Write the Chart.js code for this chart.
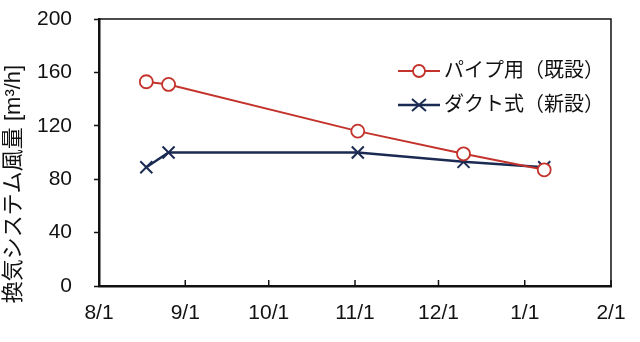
<!DOCTYPE html>
<html>
<head>
<meta charset="utf-8">
<script src="https://cdn.jsdelivr.net/npm/chart.js@4/dist/chart.umd.min.js"></script>
<style>
html,body{margin:0;padding:0;background:#fff;}
#wrap{width:640px;height:342px;position:relative;}
</style>
</head>
<body>
<div id="wrap"><canvas id="c" width="640" height="342"></canvas></div>
<script>
// ---- data ----
const startDate = '2000-08-01';
const tickDates = ['2000-08-01','2000-09-01','2000-10-01','2000-11-01','2000-12-01','2001-01-01','2001-02-01'];
const tickLabels = ['8/1','9/1','10/1','11/1','12/1','1/1','2/1'];
const measureDates = ['2000-08-18','2000-08-26','2000-11-02','2000-12-10','2001-01-08'];
const pipeValues = [153, 151, 116, 99, 87];
const ductValues = [89, 100, 100, 93, 89];
const seriesNames = ['パイプ用（既設）','ダクト式（新設）'];
const yTitle = '換気システム風量 [m³/h]';
const yTicks = [0, 40, 80, 120, 160, 200];

function dayOf(s){ return (Date.parse(s) - Date.parse(startDate)) / 86400000; }
const tickDays = tickDates.map(dayOf);
const measureDays = measureDates.map(dayOf);

const RED = '#c3332b';
const NAVY = '#1b2a52';
const FONT = '"Liberation Sans", Arial, "Noto Sans CJK JP", sans-serif';

const frame = {
  id: 'frame',
  afterDraw(chart){
    const {ctx, chartArea: a, scales} = chart;
    ctx.save();
    ctx.strokeStyle = '#111';
    ctx.lineWidth = 1.5;
    ctx.beginPath();
    ctx.moveTo(a.left, a.top); ctx.lineTo(a.right, a.top); ctx.lineTo(a.right, a.bottom);
    ctx.stroke();
    // inward ticks on x axis
    ctx.lineWidth = 1.5;
    tickDays.forEach(d => {
      const x = scales.x.getPixelForValue(d);
      ctx.beginPath(); ctx.moveTo(x, a.bottom); ctx.lineTo(x, a.bottom - 6); ctx.stroke();
    });
    // y title
    ctx.fillStyle = '#111';
    ctx.font = '22px ' + FONT;
    ctx.translate(14, 184);
    ctx.rotate(-Math.PI/2);
    ctx.textAlign = 'center';
    ctx.textBaseline = 'middle';
    ctx.fillText(yTitle, 0, 0);
    ctx.restore();

    // legend
    ctx.save();
    const rows = [
      {y: 71, color: RED, name: seriesNames[0], type: 'circle'},
      {y: 105, color: NAVY, name: seriesNames[1], type: 'x'}
    ];
    rows.forEach(r => {
      ctx.strokeStyle = r.color;
      ctx.lineWidth = r.type === 'circle' ? 2 : 2.5;
      ctx.beginPath(); ctx.moveTo(398, r.y); ctx.lineTo(440, r.y); ctx.stroke();
      if (r.type === 'circle') {
        ctx.fillStyle = '#fff';
        ctx.lineWidth = 1.8;
        ctx.beginPath(); ctx.arc(419, r.y, 6, 0, Math.PI*2); ctx.fill(); ctx.stroke();
      } else {
        ctx.lineWidth = 2;
        ctx.beginPath();
        ctx.moveTo(412, r.y-6); ctx.lineTo(426, r.y+6);
        ctx.moveTo(412, r.y+6); ctx.lineTo(426, r.y-6);
        ctx.stroke();
      }
      ctx.fillStyle = '#111';
      ctx.font = '20px ' + FONT;
      ctx.textBaseline = 'middle';
      ctx.fillText(r.name, 444, r.y);
    });
    ctx.restore();
  }
};

new Chart(document.getElementById('c'), {
  type: 'line',
  data: {
    datasets: [
      {
        label: seriesNames[0],
        data: measureDays.map((d,i) => ({x: d, y: pipeValues[i]})),
        borderColor: RED, backgroundColor: '#fff',
        borderWidth: 2, pointStyle: 'circle', pointRadius: 6.5,
        pointBorderWidth: 1.8, pointBorderColor: RED, pointBackgroundColor: '#fff',
        tension: 0
      },
      {
        label: seriesNames[1],
        data: measureDays.map((d,i) => ({x: d, y: ductValues[i]})),
        borderColor: NAVY, backgroundColor: NAVY,
        borderWidth: 2.5, pointStyle: 'crossRot', pointRadius: 8.5,
        pointBorderWidth: 2, pointBorderColor: NAVY,
        tension: 0
      }
    ]
  },
  options: {
    responsive: false,
    animation: false,
    layout: {padding: {top: 19, right: 29, left: 0, bottom: 0}},
    plugins: {legend: {display: false}, tooltip: {enabled: false}},
    scales: {
      x: {
        type: 'linear',
        min: tickDays[0], max: tickDays[tickDays.length-1],
        afterBuildTicks(scale){ scale.ticks = tickDays.map(v => ({value: v})); },
        afterFit(scale){ scale.height = 56; scale.paddingLeft = 0; scale.paddingRight = 0; },
        ticks: {
          callback(v){ const i = tickDays.indexOf(v); return i >= 0 ? tickLabels[i] : ''; },
          font: {family: FONT, size: 21}, color: '#111', padding: 15, maxRotation: 0, autoSkip: false
        },
        grid: {display: true, drawOnChartArea: false, drawTicks: false},
        border: {display: true, color: '#111', width: 2.5}
      },
      y: {
        min: 0, max: 200,
        afterBuildTicks(scale){ scale.ticks = yTicks.map(v => ({value: v})); },
        afterFit(scale){ scale.width = 99; scale.paddingTop = 0; scale.paddingBottom = 0; },
        ticks: {font: {family: FONT, size: 21}, color: '#111', padding: 22},
        grid: {display: true, drawOnChartArea: false, drawTicks: true, tickLength: 5, color: '#111', tickWidth: 1.5},
        border: {display: true, color: '#111', width: 2.5}
      }
    }
  },
  plugins: [frame]
});
</script>
</body>
</html>
